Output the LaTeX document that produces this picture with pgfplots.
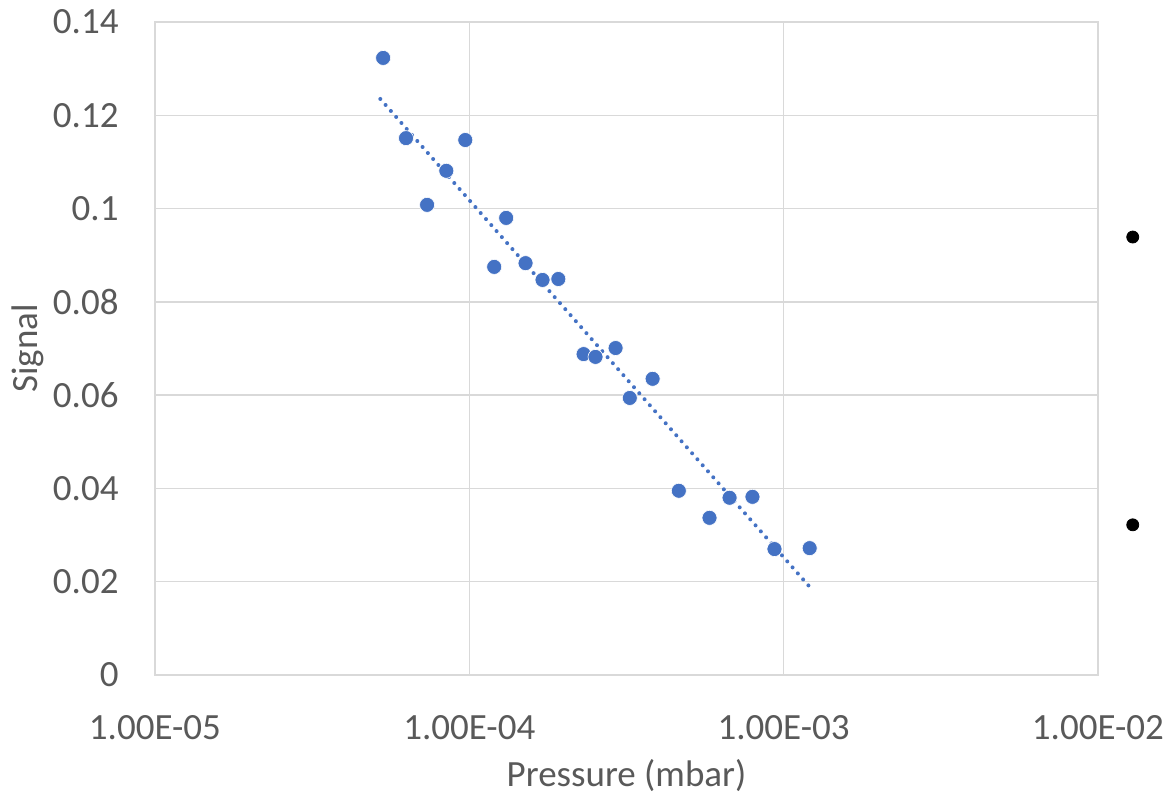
\documentclass[border=0pt]{standalone}
\usepackage{pgfplots}
\pgfplotsset{compat=1.18}
\usepackage{fontspec}
\setmainfont{Carlito}
\usetikzlibrary{calc}

\definecolor{txtgray}{HTML}{595959}
\definecolor{gridgray}{HTML}{D9D9D9}
\definecolor{ptblue}{HTML}{4472C4}

\begin{document}
\begin{tikzpicture}
    \begin{axis}[
        name=ax,
        scale only axis,
        width=471.5pt, height=326.5pt,
        xmode=log,
        xmin=1e-5, xmax=1e-2,
        ymin=0, ymax=0.14,
        clip=false,
        xtick={1e-5,1e-4,1e-3,1e-2},
        xticklabels={1.00E-05,1.00E-04,1.00E-03,1.00E-02},
        ytick={0,0.02,0.04,0.06,0.08,0.1,0.12,0.14},
        yticklabels={0,0.02,0.04,0.06,0.08,0.1,0.12,0.14},
        minor xtick={},
        minor tick length=0pt,
        major tick length=0pt,
        grid=major,
        major grid style={gridgray, line width=0.75pt},
        axis line style={gridgray, line width=0.75pt},
        tick label style={font=\fontsize{18.5}{22}\selectfont, text=txtgray},
        xticklabel style={inner sep=0pt, anchor=north, yshift=-20pt},
        yticklabel style={inner sep=0pt, anchor=east, xshift=-18pt},
        xlabel={Pressure (mbar)},
        ylabel={Signal},
        label style={font=\fontsize{18.5}{22}\selectfont, text=txtgray, inner sep=0pt},
        xlabel style={at={(axis description cs:0.5,-0.170)}, anchor=base},
        ylabel style={at={(axis description cs:-0.1251,0.5)}, rotate=0, anchor=base},
    ]
    % measured points
    \addplot[only marks, mark=*, mark size=3.75pt, mark options={fill=ptblue, draw=white, line width=0.3pt}] coordinates {
        (5.32e-5, 0.1323)
        (6.29e-5, 0.1151)
        (7.34e-5, 0.1008)
        (8.45e-5, 0.1081)
        (9.71e-5, 0.1147)
        (1.20e-4, 0.0875)
        (1.31e-4, 0.0980)
        (1.51e-4, 0.0883)
        (1.71e-4, 0.0847)
        (1.92e-4, 0.0849)
        (2.31e-4, 0.0688)
        (2.52e-4, 0.0682)
        (2.92e-4, 0.0701)
        (3.24e-4, 0.0594)
        (3.83e-4, 0.0635)
        (4.64e-4, 0.0395)
        (5.81e-4, 0.0337)
        (6.73e-4, 0.0380)
        (7.96e-4, 0.0382)
        (9.35e-4, 0.0270)
        (1.21e-3, 0.0272)
    };

    % log trendline (straight on log axis)
    \addplot[ptblue, line width=2pt, line cap=round, dash pattern=on 0pt off 4pt] coordinates {
        (5.21e-5, 0.1235)
        (1.21e-3, 0.0189)
    };

    % cropped legend markers at the right edge
    \addplot[only marks, mark=*, mark size=3pt, black] coordinates {
        (1.29e-2, 0.0939)
        (1.29e-2, 0.0322)
    };
    \end{axis}
    \pgfresetboundingbox
    \path[use as bounding box] ($(ax.south west)+(-77.5pt,-59.5pt)$) rectangle ($(ax.north east)+(35pt,11pt)$);
\end{tikzpicture}
\end{document}
